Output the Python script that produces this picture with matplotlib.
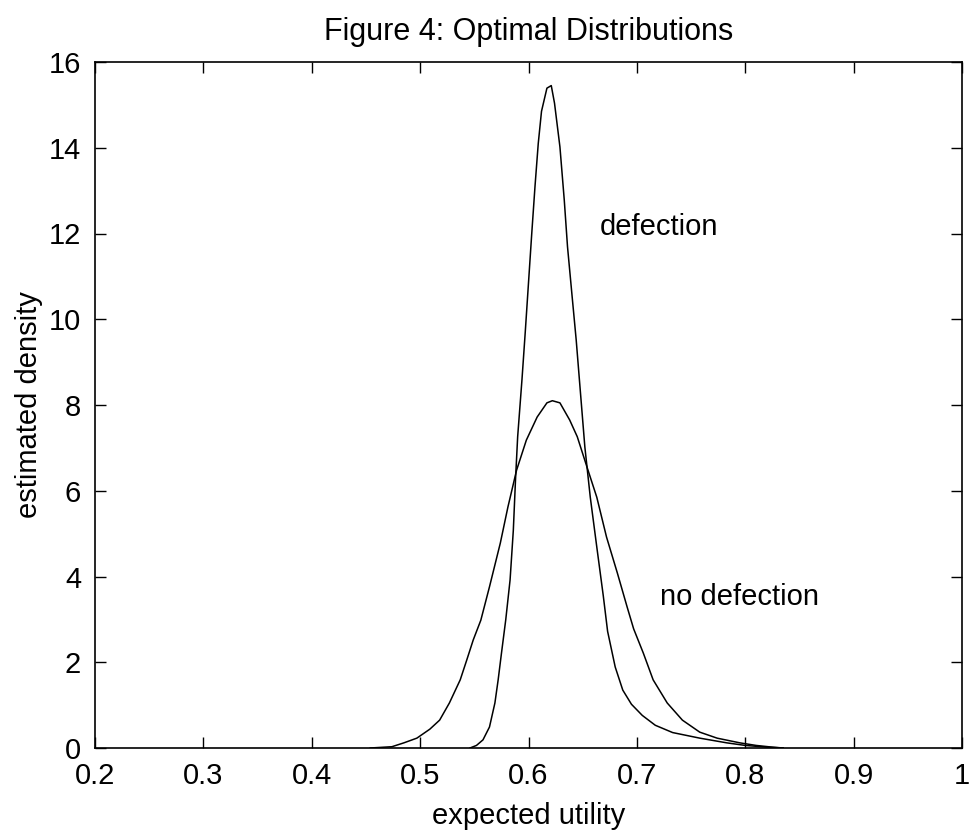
import matplotlib
matplotlib.use('Agg')
import matplotlib.pyplot as plt

plt.rcParams['font.family'] = ['Liberation Sans', 'DejaVu Sans']

# 推定密度（defection: 鋭いピーク, no defection: 広いピーク）
x_def = [0.546, 0.552, 0.558, 0.564, 0.569, 0.572, 0.575, 0.579, 0.583, 0.586,
         0.588, 0.590, 0.594, 0.597, 0.600, 0.603, 0.606, 0.609, 0.612, 0.617,
         0.621, 0.624, 0.629, 0.633, 0.636, 0.640, 0.644, 0.647, 0.652, 0.657,
         0.663, 0.669, 0.673, 0.680, 0.687, 0.695, 0.705, 0.717, 0.733, 0.758,
         0.783, 0.800, 0.820, 0.835]
y_def = [0.0, 0.06, 0.19, 0.49, 1.05, 1.59, 2.2, 2.99, 3.92, 5.08,
         6.25, 7.26, 8.6, 9.7, 10.85, 12.0, 13.1, 14.1, 14.85, 15.39,
         15.45, 15.04, 14.02, 12.78, 11.69, 10.6, 9.52, 8.58, 7.02, 5.85,
         4.69, 3.55, 2.72, 1.89, 1.35, 1.02, 0.76, 0.53, 0.36, 0.23,
         0.12, 0.06, 0.02, 0.0]

x_nod = [0.454, 0.474, 0.485, 0.497, 0.509, 0.518, 0.527, 0.537, 0.543, 0.549,
         0.556, 0.564, 0.574, 0.581, 0.589, 0.598, 0.608, 0.617, 0.622, 0.629,
         0.638, 0.645, 0.654, 0.663, 0.672, 0.682, 0.691, 0.697, 0.706, 0.715,
         0.728, 0.742, 0.758, 0.774, 0.795, 0.810, 0.825, 0.835]
y_nod = [0.0, 0.03, 0.12, 0.23, 0.44, 0.65, 1.05, 1.59, 2.05, 2.52,
         2.98, 3.76, 4.78, 5.62, 6.48, 7.18, 7.72, 8.05, 8.1, 8.05,
         7.65, 7.26, 6.55, 5.85, 4.92, 4.08, 3.29, 2.78, 2.21, 1.59,
         1.05, 0.65, 0.37, 0.23, 0.12, 0.06, 0.02, 0.0]

x_ticks = [0.2, 0.3, 0.4, 0.5, 0.6, 0.7, 0.8, 0.9, 1.0]
x_ticklabels = ['0.2', '0.3', '0.4', '0.5', '0.6', '0.7', '0.8', '0.9', '1']
y_ticks = [0, 2, 4, 6, 8, 10, 12, 14, 16]

fs = 21

fig = plt.figure(figsize=(9.71, 8.36), dpi=100)
ax = fig.add_axes([95 / 971, 88 / 836, 867 / 971, 686 / 836])

ax.plot(x_def, y_def, color='black', lw=1.1)
ax.plot(x_nod, y_nod, color='black', lw=1.1)

ax.text(0.666, 12.15, 'defection', fontsize=fs, ha='left', va='center')
ax.text(0.721, 3.52, 'no defection', fontsize=fs, ha='left', va='center')

ax.set_xlim(0.2, 1.0)
ax.set_ylim(0, 16)
ax.set_xticks(x_ticks)
ax.set_xticklabels(x_ticklabels)
ax.set_yticks(y_ticks)
ax.tick_params(direction='in', top=True, right=True, length=8, width=1,
               labelsize=fs, pad=10)
for s in ax.spines.values():
    s.set_linewidth(1.2)

ax.set_title('Figure 4: Optimal Distributions', fontsize=22, pad=16)
ax.set_xlabel('expected utility', fontsize=fs, labelpad=9)
ax.set_ylabel('estimated density', fontsize=fs, labelpad=4)

fig.savefig('out.png', dpi=100)
